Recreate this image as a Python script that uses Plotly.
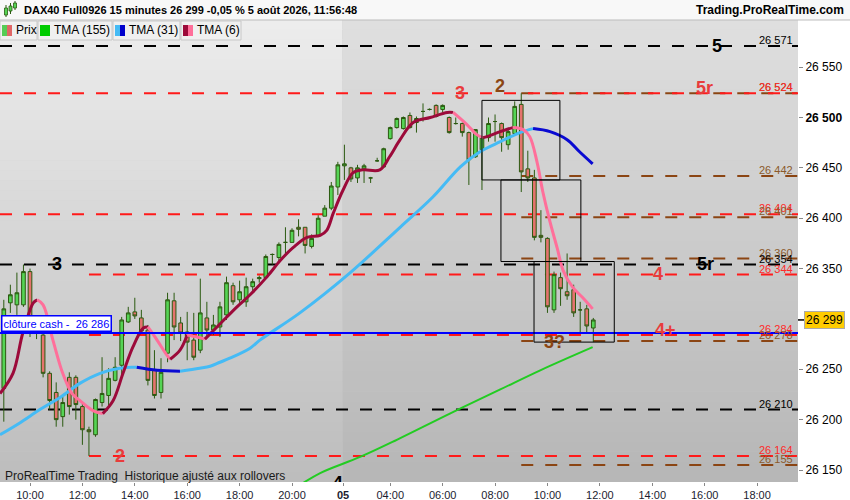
import plotly.graph_objects as go

# =============================================================================
# data (DAX40 Full0926, 15 min bars)
# =============================================================================
opens = [26231, 26316, 26314, 26314, 26347, 26294, 26284, 26246, 26227, 26203,
         26242, 26242, 26213, 26190, 26185, 26217, 26224, 26239, 26254, 26297,
         26307, 26301, 26289, 26249, 26227, 26266, 26318, 26296, 26287, 26279,
         26269, 26301, 26289, 26292, 26304, 26333, 26319, 26317, 26332, 26340,
         26341, 26364, 26361, 26376, 26376, 26391, 26391, 26372, 26383, 26402,
         26410, 26431, 26452, 26450, 26440, 26449, 26440, 26457, 26451, 26479,
         26490, 26489, 26502, 26495, 26506, 26508, 26512, 26508, 26500, 26494,
         26494, 26485, 26461, 26468, 26480, 26496, 26494, 26473, 26484, 26513,
         26449, 26440, 26383, 26380, 26309, 26341, 26327, 26329, 26309, 26310,
         26291]
highs = [26319, 26334, 26346, 26354, 26350, 26300, 26289, 26248, 26237, 26223,
         26247, 26244, 26217, 26193, 26221, 26262, 26251, 26262, 26302, 26312,
         26321, 26309, 26294, 26269, 26261, 26326, 26326, 26302, 26307, 26306,
         26340, 26317, 26304, 26317, 26342, 26336, 26338, 26341, 26340, 26343,
         26364, 26365, 26376, 26391, 26390, 26399, 26391, 26384, 26403, 26413,
         26436, 26456, 26473, 26451, 26453, 26454, 26441, 26460, 26470, 26491,
         26500, 26501, 26505, 26501, 26514, 26509, 26513, 26513, 26501, 26500,
         26495, 26486, 26488, 26480, 26500, 26503, 26495, 26488, 26516, 26524,
         26467, 26448, 26408, 26381, 26347, 26346, 26365, 26334, 26317, 26314,
         26301]
lows = [26198, 26306, 26304, 26312, 26282, 26280, 26242, 26210, 26193, 26193,
        26205, 26200, 26175, 26164, 26183, 26213, 26214, 26238, 26242, 26296,
        26300, 26286, 26234, 26221, 26221, 26257, 26279, 26278, 26259, 26259,
        26266, 26282, 26284, 26282, 26299, 26314, 26316, 26312, 26327, 26336,
        26340, 26354, 26356, 26365, 26376, 26382, 26365, 26370, 26383, 26402,
        26408, 26423, 26438, 26436, 26435, 26435, 26435, 26456, 26450, 26478,
        26489, 26488, 26489, 26485, 26496, 26507, 26500, 26505, 26484, 26493,
        26481, 26433, 26460, 26428, 26476, 26476, 26466, 26468, 26483, 26426,
        26436, 26378, 26376, 26306, 26306, 26313, 26319, 26302, 26286, 26286,
        26277]
closes = [26310, 26324, 26326, 26347, 26294, 26286, 26246, 26219, 26200, 26217,
          26213, 26215, 26190, 26188, 26220, 26226, 26241, 26252, 26299, 26306,
          26303, 26288, 26239, 26224, 26247, 26319, 26292, 26286, 26277, 26262,
          26306, 26289, 26294, 26312, 26336, 26317, 26327, 26332, 26337, 26341,
          26362, 26364, 26374, 26376, 26388, 26389, 26373, 26380, 26400, 26410,
          26432, 26453, 26454, 26439, 26450, 26452, 26440, 26457, 26469, 26490,
          26499, 26500, 26490, 26499, 26506, 26508, 26501, 26512, 26485, 26494,
          26485, 26458, 26488, 26480, 26494, 26496, 26480, 26486, 26511, 26446,
          26440, 26381, 26381, 26312, 26344, 26330, 26323, 26306, 26309, 26293,
          26299]
bar_idx = list(range(len(opens)))

# moving averages, read at sample points (bar position, price)
tma6_x = [-0.58, 1.4, 2.9, 4.5, 5.1, 6.0, 7.5, 9.0, 10.4, 11.6, 13.6, 15.1,
          16.7, 18.2, 19.7, 21.3, 22.0, 23.4, 24.9, 25.4, 26.9, 28.0, 29.5,
          30.7, 33.0, 35.6, 37.6, 40.2, 42.2, 44.2, 46.3, 48.3, 49.3, 50.3,
          51.8, 53.3, 54.8, 57.4, 58.9, 60.5, 62.5, 65.1, 67.7, 68.6, 70.7,
          72.2, 73.2, 74.2, 75.8, 77.7, 79.3, 80.3, 81.4, 82.3, 83.4, 84.5,
          85.4, 86.9, 88.4, 89.9]
tma6_y = [26226, 26246, 26286, 26316, 26319, 26314, 26279, 26246, 26226, 26219,
          26209, 26206, 26219, 26246, 26272, 26291, 26292, 26279, 26264, 26260,
          26269, 26284, 26282, 26280, 26295, 26312, 26324, 26342, 26358, 26371,
          26381, 26383, 26388, 26405, 26428, 26445, 26448, 26448, 26461, 26478,
          26495, 26500, 26505, 26505, 26493, 26483, 26480, 26482, 26486, 26490,
          26488, 26481, 26456, 26426, 26396, 26370, 26348, 26331, 26321, 26310]

tma31_x = [-0.58, 2.5, 5.5, 8.6, 11.6, 14.7, 17.7, 19.7, 20.3, 23.4, 26.9,
           29.9, 31.5, 33.0, 34.5, 37.6, 39.1, 45.2, 52.9, 60.5, 65.5, 69.7,
           72.7, 75.8, 78.8, 80.8, 83.4, 86.0, 87.9, 89.9]
tma31_y = [26185, 26197, 26210, 26222, 26236, 26246, 26251, 26252, 26252, 26249,
           26248, 26251, 26253, 26257, 26261, 26271, 26279, 26306, 26346, 26391,
           26421, 26451, 26466, 26476, 26485, 26489, 26486, 26478, 26466, 26454]

tma155_x = [45.2, 48.3, 54.4, 60.0, 68.1, 75.8, 81.9, 89.9]
tma155_y = [26135, 26147, 26163, 26180, 26206, 26230, 26249, 26272]

# horizontal levels: price, colour, first bar, label
level_price = [26571, 26524, 26524, 26442, 26404, 26401, 26360, 26354,
               26344, 26284, 26278, 26210, 26164, 26155]
level_kind = ["black", "brown", "red", "brown", "red", "brown", "brown", "black",
              "red", "red", "brown", "black", "red", "brown"]
level_start = [None, 79, None, 79, None, 79, 79, None,
               13, 13, 79, None, 13, 79]
cash_close = 26286
last_price = 26299

# wave labels: text, kind, bar position, price
wave_text = ["5", "5r", "3", "2", "3", "5r", "4", "4+", "3?", "2", "4"]
wave_kind = ["black", "red", "red", "brown", "black", "black", "red", "red",
             "brown", "red", "black"]
wave_x = [108.9, 106.9, 69.6, 75.8, 8.1, 107.1, 99.8, 101.0, 84.0, 17.7, 51.0]
wave_y = [26571, 26529, 26524, 26531, 26355, 26355, 26345, 26289, 26277, 26164, 26136]

# rectangles drawn on the chart: x0, x1, y0, y1
box_x0 = [73.0, 75.9, 80.95]
box_x1 = [84.9, 88.1, 93.2]
box_y0 = [26438, 26357, 26277]
box_y1 = [26517, 26438, 26357]

x_tick_pos = [4, 12, 20, 28, 36, 44, 51.8, 59, 67, 75, 83, 91, 99, 107, 115]
x_tick_txt = ["10:00", "12:00", "14:00", "16:00", "18:00", "20:00", "<b>05</b>",
              "04:00", "06:00", "08:00", "10:00", "12:00", "14:00", "16:00", "18:00"]
y_tick_pos = [26150, 26200, 26250, 26350, 26400, 26450, 26500, 26550]

# =============================================================================
# styles
# =============================================================================
FONT = "Liberation Sans, Arial, sans-serif"
XR = [-0.58, 121.25]
YR = [26138.1, 26596.8]
LINE_COL = {"black": "#000000", "red": "#ff1a1a", "brown": "#8b4513"}
TXT_COL = {"black": "#000000", "red": "#ff2a2a", "brown": "#8b5a2b"}
WAVE_COL = {"black": "#000000", "red": "#e83c3c", "brown": "#8b4513"}

W_PLOT, T_PLOT, B_PLOT = 798.0, 20.0, 482.0


def fx(px):
    return px / W_PLOT


def fy(py):
    return (B_PLOT - py) / (B_PLOT - T_PLOT)


def fmt(v):
    s = str(int(v))
    return s[:2] + " " + s[2:]


def runs_by_direction(xs, ys):
    runs = []
    cur = [0]
    up = ys[1] >= ys[0]
    for k in range(1, len(xs)):
        d = ys[k] >= ys[k - 1]
        if d != up:
            runs.append((up, cur))
            cur = [k - 1]
            up = d
        cur.append(k)
    runs.append((up, cur))
    return runs


fig = go.Figure()

# two-tone moving averages
for xs, ys, c_up, c_dn, w in [(tma31_x, tma31_y, "#45bbf5", "#0a0ad2", 3),
                              (tma6_x, tma6_y, "#9c0a3a", "#ff6f9a", 3)]:
    for up, idx in runs_by_direction(xs, ys):
        fig.add_trace(go.Scatter(
            x=[xs[k] for k in idx], y=[ys[k] for k in idx], mode="lines",
            line=dict(color=c_up if up else c_dn, width=w, shape="spline"),
            hoverinfo="skip", showlegend=False))

fig.add_trace(go.Scatter(x=tma155_x, y=tma155_y, mode="lines",
                         line=dict(color="#22cc22", width=2, shape="spline"),
                         hoverinfo="skip", showlegend=False))

fig.add_trace(go.Candlestick(
    x=bar_idx, open=opens, high=highs, low=lows, close=closes,
    increasing=dict(line=dict(color="#2b5a10", width=1), fillcolor="#55d455"),
    decreasing=dict(line=dict(color="#2b5a10", width=1), fillcolor="#e5736e"),
    whiskerwidth=0, hoverinfo="skip", showlegend=False))

# bottom wave label is clipped by the plot edge -> text trace
fig.add_trace(go.Scatter(x=[wave_x[-1]], y=[wave_y[-1]], mode="text",
                         text=["<b>" + wave_text[-1] + "</b>"],
                         textfont=dict(family=FONT, size=18, color=WAVE_COL[wave_kind[-1]]),
                         cliponaxis=True, hoverinfo="skip", showlegend=False))

shapes = []
# background gradient, previous day lighter than current day
n_b = 46
for k in range(n_b):
    t = k / (n_b - 1)
    cl = int(237 - t * 48)
    cr = int(223 - t * 40)
    for x0, x1, c in [(-5, 51.7, cl), (51.7, 130, cr)]:
        shapes.append(dict(type="rect", xref="x", yref="paper", x0=x0, x1=x1,
                           y0=1 - (k + 1) / n_b, y1=1 - k / n_b + 0.001,
                           fillcolor="rgb(%d,%d,%d)" % (c, c, c),
                           line=dict(width=0), layer="below"))

annotations = []
for p, kind, start in zip(level_price, level_kind, level_start):
    shapes.append(dict(type="line", xref="x", yref="y",
                       x0=XR[0] if start is None else start, x1=XR[1],
                       y0=p, y1=p, layer="below",
                       line=dict(color=LINE_COL[kind], width=2, dash="12px,12px")))
    annotations.append(dict(xref="paper", yref="y", x=1, y=p, xanchor="right",
                            yanchor="bottom", xshift=-3, yshift=-2, showarrow=False,
                            text=fmt(p), font=dict(family=FONT, size=11, color=TXT_COL[kind])))

shapes.append(dict(type="line", xref="paper", yref="y", x0=0, x1=1,
                   y0=cash_close, y1=cash_close, line=dict(color="#0000ff", width=2)))

for x0, x1, y0, y1 in zip(box_x0, box_x1, box_y0, box_y1):
    shapes.append(dict(type="rect", xref="x", yref="y", x0=x0, x1=x1, y0=y0, y1=y1,
                       line=dict(color="#000000", width=1)))

for t, kind, x, y in zip(wave_text[:-1], wave_kind[:-1], wave_x[:-1], wave_y[:-1]):
    annotations.append(dict(x=x, y=y, xref="x", yref="y", showarrow=False,
                            xanchor="center", yanchor="middle",
                            text="<b>" + t + "</b>",
                            font=dict(family=FONT, size=18, color=WAVE_COL[kind])))

annotations.append(dict(xref="paper", yref="y", x=0, y=cash_close, xanchor="left",
                        yanchor="bottom", xshift=1, yshift=1, showarrow=False,
                        text="clôture cash -  " + fmt(cash_close),
                        font=dict(family=FONT, size=11, color="#0000ff"),
                        bgcolor="#ffffff", bordercolor="#0000ff", borderwidth=1.5,
                        borderpad=1))

# current price tag on the axis
shapes.append(dict(type="line", xref="paper", yref="y", x0=1, x1=fx(804),
                   y0=last_price, y1=last_price, line=dict(color="#000000", width=1.5)))
annotations.append(dict(xref="paper", yref="y", x=fx(804), y=last_price, xanchor="left",
                        yanchor="middle", showarrow=False, text=fmt(last_price),
                        font=dict(family=FONT, size=12, color="#000000"),
                        bgcolor="#ffcc00", bordercolor="#aaaaaa", borderwidth=1, borderpad=1))

annotations.append(dict(xref="paper", yref="paper", x=fx(3), y=fy(476), xanchor="left",
                        yanchor="middle", showarrow=False,
                        text="ProRealTime Trading  Historique ajusté aux rollovers",
                        font=dict(family=FONT, size=12, color="#1a1a1a")))

# ---- header ----
shapes.append(dict(type="rect", xref="paper", yref="paper", x0=fx(-2), x1=fx(852),
                   y0=fy(20), y1=fy(-2), fillcolor="#f8f8f8",
                   line=dict(width=0)))
shapes.append(dict(type="line", xref="paper", yref="paper", x0=fx(0), x1=fx(850),
                   y0=fy(20), y1=fy(20), line=dict(color="#bdbdbd", width=1)))
for cx, top, bot, b0, b1 in [(6, 5, 17, 8, 15), (10.5, 3, 14, 6, 11), (15, 1, 10, 3, 8)]:
    shapes.append(dict(type="line", xref="paper", yref="paper", x0=fx(cx), x1=fx(cx),
                       y0=fy(bot), y1=fy(top), line=dict(color="#2b5a10", width=1)))
    shapes.append(dict(type="rect", xref="paper", yref="paper", x0=fx(cx - 1.5), x1=fx(cx + 1.5),
                       y0=fy(b1), y1=fy(b0), fillcolor="#55d455", line=dict(color="#2b5a10", width=0.8)))
annotations.append(dict(xref="paper", yref="paper", x=fx(22), y=fy(10.5), xanchor="left",
                        yanchor="middle", showarrow=False,
                        text="<b>DAX40 Full0926 15 minutes 26 299 -0,05 % 5 août 2026, 11:56:48</b>",
                        font=dict(family=FONT, size=11, color="#000000")))
annotations.append(dict(xref="paper", yref="paper", x=fx(846), y=fy(10.5), xanchor="right",
                        yanchor="middle", showarrow=False, text="<b>Trading.ProRealTime.com</b>",
                        font=dict(family=FONT, size=12, color="#000000")))

# legend buttons
legend_items = [
    ("Prix", 0, 37, ["#55cc55", "#e06666"]),
    ("TMA (155)", 38, 112, ["#00cc00"]),
    ("TMA (31)", 113, 180, ["#45bbf5", "#0000cc"]),
    ("TMA (6)", 181, 241, ["#9c0a3a", "#ff6f9a"]),
]
for name, x0, x1, cols in legend_items:
    shapes.append(dict(type="rect", xref="paper", yref="paper", x0=fx(x0), x1=fx(x1),
                       y0=fy(40), y1=fy(21), fillcolor="#f0f0f0",
                       line=dict(color="#c8c8c8", width=1)))
    sw = 10 / len(cols)
    for j, c in enumerate(cols):
        shapes.append(dict(type="rect", xref="paper", yref="paper",
                           x0=fx(x0 + 2 + j * sw), x1=fx(x0 + 2 + (j + 1) * sw),
                           y0=fy(36), y1=fy(25), fillcolor=c, line=dict(width=0)))
    annotations.append(dict(xref="paper", yref="paper", x=fx(x0 + 14), y=fy(30.5),
                            xanchor="left", yanchor="middle", showarrow=False, text=name,
                            font=dict(family=FONT, size=12, color="#000000")))

fig.update_layout(
    width=850, height=500,
    margin=dict(l=0, r=52, t=20, b=18, autoexpand=False),
    paper_bgcolor="#ffffff", plot_bgcolor="#cccccc",
    boxgap=0.2,
    shapes=shapes, annotations=annotations, showlegend=False,
    xaxis=dict(range=XR, tickmode="array", tickvals=x_tick_pos, ticktext=x_tick_txt,
               showgrid=False, zeroline=False, ticks="outside", ticklen=3,
               tickcolor="#888888", rangeslider=dict(visible=False), automargin=False,
               tickfont=dict(family=FONT, size=11, color="#1c1c30"), fixedrange=True),
    yaxis=dict(range=YR, side="right", tickmode="array", tickvals=y_tick_pos,
               ticktext=["<b>26 500</b>" if v == 26500 else fmt(v) for v in y_tick_pos],
               showgrid=False, zeroline=False, ticks="outside", ticklen=4,
               tickcolor="#888888", automargin=False,
               tickfont=dict(family=FONT, size=12, color="#000000"), fixedrange=True),
)

# the page body has a default 8px margin; drop it so the figure fills the window
fig.write_html("out.html", config={"displayModeBar": False},
               post_script="document.body.style.margin='0px';")
